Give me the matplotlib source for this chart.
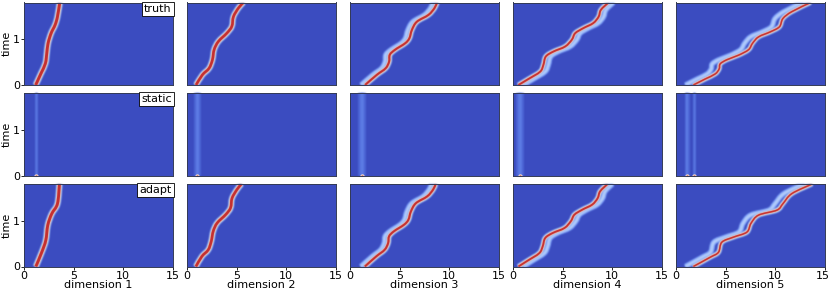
import numpy as np
import matplotlib
matplotlib.use("Agg")
import matplotlib.pyplot as plt
from matplotlib.path import Path
from matplotlib.patches import PathPatch
from matplotlib.transforms import ScaledTranslation

# ridge positions, one pair of lists per panel
truth_t = [
    [0, .255, .47, .69, .91, 1.13, 1.31, 1.49, 1.8],
    [0, .22, .365, .55, .77, .95, 1.13, 1.28, 1.49, 1.68, 1.8],
    [0, .22, .365, .51, .66, .77, .91, 1.02, 1.2, 1.38, 1.53, 1.68, 1.8],
    [0, .13, .29, .44, .62, .73, .84, .99, 1.13, 1.24, 1.35, 1.49, 1.64, 1.8],
    [0, .13, .24, .35, .46, .55, .65, .77, .91, 1.05, 1.16, 1.27, 1.45, 1.6, 1.8],
]
truth_x = [
    [1.18, 1.72, 2.16, 2.3, 2.43, 2.74, 3.14, 3.38, 3.61],
    [.91, 1.55, 2.23, 2.57, 2.74, 3.17, 4.02, 4.53, 4.69, 5.2, 5.7],
    [1.52, 2.7, 3.6, 3.95, 4.02, 4.56, 5.57, 6.0, 6.25, 6.75, 7.93, 8.54, 8.78],
    [.54, 1.55, 2.74, 3.07, 3.31, 4.08, 5.27, 5.95, 6.28, 7.1, 8.1, 8.65, 8.88, 9.65],
    [1.75, 2.94, 3.95, 4.36, 4.46, 5.13, 6.31, 7.33, 7.73, 8.34, 9.53, 10.45, 10.8, 11.7, 13.6],
]
adapt_t = [
    [0, .31, .57, .9, 1.15, 1.37, 1.8],
    [0, .22, .365, .55, .77, .95, 1.13, 1.28, 1.49, 1.68, 1.8],
    [0, .22, .365, .51, .66, .77, .91, 1.02, 1.2, 1.38, 1.53, 1.68, 1.8],
    [0, .13, .29, .44, .62, .73, .84, .99, 1.13, 1.24, 1.35, 1.49, 1.64, 1.8],
    [0, .2, .31, .53, .64, .75, .94, 1.12, 1.23, 1.37, 1.59, 1.8],
]
adapt_x = [
    [1.2, 1.79, 2.2, 2.4, 2.8, 3.38, 3.58],
    [.9, 1.5, 2.15, 2.45, 2.65, 3.05, 3.9, 4.4, 4.55, 5.05, 5.5],
    [1.5, 2.65, 3.5, 3.85, 3.95, 4.45, 5.45, 5.9, 6.15, 6.65, 7.8, 8.4, 8.65],
    [.55, 1.5, 2.65, 3.0, 3.25, 4.0, 5.2, 5.85, 6.2, 7.0, 8.0, 8.55, 8.8, 9.55],
    [1.75, 3.44, 4.29, 4.63, 5.8, 7.16, 7.57, 8.33, 10.2, 10.8, 11.7, 13.75],
]
# faint vertical bands in the middle row
static_x = [[1.18], [.98], [1.2], [.75], [1.1, 1.8]]
static_w = [[3], [7], [8], [8], [5, 3]]
# sideways offset of the pale band next to the ridge
band_lag = [0, 0, -.4, .5, -.8]

row_names = ["truth", "static", "adapt"]
xtick_vals = [0, 5, 10, 15]
ytick_vals = [0, 1]

cm = plt.get_cmap("coolwarm")
px = 0.72  # 1 px in points at dpi 100
fs = 8
red_w = [2.8, 2.6, 2.0, 1.8, 1.5]

lefts = [24, 187, 350, 513, 676]
tops = [2.5, 93, 184]
W, H = 830, 292


def make_blur(sigma):
    # soft edges, the reference is a smooth image
    def blur(img, dpi):
        k = np.exp(-.5 * (np.arange(-3, 4) / sigma) ** 2)
        k /= k.sum()
        pad = 4
        out = np.pad(img, ((pad, pad), (pad, pad), (0, 0)))
        out[..., :3] *= out[..., 3:]
        out = np.apply_along_axis(lambda v: np.convolve(v, k, mode="same"), 0, out)
        out = np.apply_along_axis(lambda v: np.convolve(v, k, mode="same"), 1, out)
        a = np.clip(out[..., 3:], 1e-6, 1)
        out[..., :3] = np.clip(out[..., :3] / a, 0, 1)
        return out, -pad, -pad
    return blur


def curve(ax, x, t, color, w, sigma=.8):
    # bezier pieces through the knots
    pts = np.column_stack([x, t])
    verts = [pts[0]]
    codes = [Path.MOVETO]
    for i in range(len(pts) - 1):
        before = pts[max(i - 1, 0)]
        after = pts[min(i + 2, len(pts) - 1)]
        verts += [pts[i] + (pts[i + 1] - before) / 6, pts[i + 1] - (after - pts[i]) / 6, pts[i + 1]]
        codes += [Path.CURVE4] * 3
    p = PathPatch(Path(verts, codes), fc="none", ec=color, lw=w * px, capstyle="butt", joinstyle="round")
    p.set_agg_filter(make_blur(sigma))
    ax.add_patch(p)


def draw_ridge(ax, x, t, col):
    lag = band_lag[col]
    if lag != 0:
        xb = [v + lag for v in x]
        curve(ax, xb, t, cm(.18), 5.5)
        curve(ax, xb, t, cm(.36), 3.2)
    r = red_w[col]
    curve(ax, x, t, cm(.25), r + 3.2)
    curve(ax, x, t, cm(.48), r + 2.0)
    curve(ax, x, t, cm(.78), r + .5, .6)
    curve(ax, x, t, cm(.96), r, .4)


fig = plt.figure(figsize=(W / 100, H / 100), dpi=100)
for r in range(3):
    for c in range(5):
        ax = fig.add_axes([lefts[c] / W, 1 - (tops[r] + 82.5) / H, 148.5 / W, 82.5 / H])
        ax.set_facecolor(cm(0.0))
        if r == 0:
            draw_ridge(ax, truth_x[c], truth_t[c], c)
        elif r == 2:
            draw_ridge(ax, adapt_x[c], adapt_t[c], c)
        else:
            for xs, w in zip(static_x[c], static_w[c]):
                l1 = ax.axvline(xs, color=cm(.06), lw=w * px)
                l2 = ax.axvline(xs, color=cm(.11), lw=w * .45 * px)
                l1.set_agg_filter(make_blur(.8))
                l2.set_agg_filter(make_blur(.8))
                ax.plot([xs], [0], "o", ms=3.2, color=cm(.55), mew=0)
                ax.plot([xs], [0], "o", ms=1.6, color=cm(.9), mew=0)
        ax.set_xlim(0, 15)
        ax.set_ylim(0, 1.8)
        ax.set_xticks(xtick_vals if r == 2 else [])
        ax.set_yticks(ytick_vals if c == 0 else [])
        ax.tick_params(labelsize=fs, length=2, width=.6, pad=1)
        for s in ax.spines.values():
            s.set_linewidth(.7)
            s.set_color("#333a55")
        if r == 2:
            ax.set_xlabel(f"dimension {c + 1}", fontsize=fs, labelpad=-.2)
            if c == 4:
                # keep the last tick label inside the picture
                last = ax.get_xticklabels()[-1]
                last.set_transform(last.get_transform() + ScaledTranslation(-1.5 / 100, 0, fig.dpi_scale_trans))
        if c == 0:
            ax.set_ylabel("time", fontsize=fs, labelpad=.5)
            ax.text(.995, .985, row_names[r], transform=ax.transAxes, ha="right", va="top",
                    fontsize=fs, zorder=10, clip_on=False,
                    bbox=dict(boxstyle="square,pad=0.2", fc="white", ec="black", lw=.6))

fig.savefig("out.png", dpi=100)
